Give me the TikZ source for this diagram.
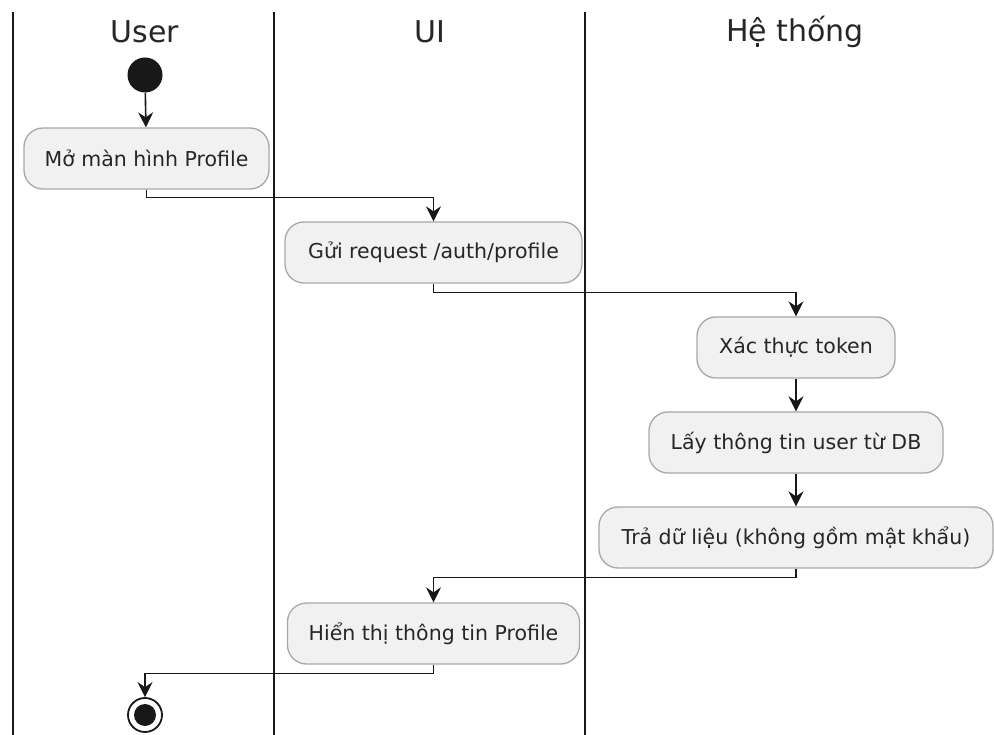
\documentclass[tikz,border=0pt]{standalone}
\usepackage{fontspec}
\setmainfont{DejaVu Sans}
\usetikzlibrary{arrows.meta}
\definecolor{boxfill}{HTML}{F1F1F1}
\definecolor{boxline}{HTML}{A8A8A8}
\definecolor{ink}{HTML}{181818}
\definecolor{txt}{HTML}{262626}
\tikzset{
  lane/.style={draw=ink, line width=2.2pt},
  head/.style={font=\fontsize{30}{34}\selectfont, text=txt},
  act/.style={draw=boxline, fill=boxfill, line width=1.3pt, rounded corners=19pt,
    minimum height=61pt, inner sep=0pt, text=txt,
    font=\fontsize{20.5}{24}\selectfont},
  flow/.style={draw=ink, line width=1.6pt,
    -{Stealth[length=15pt,width=15pt,inset=5pt]}},
}
\begin{document}
\begin{tikzpicture}[x=1pt,y=-1pt]
  \useasboundingbox (0,0) rectangle (994,735);
  \fill[white] (0,0) rectangle (994,735);

  % swimlane separators
  \draw[lane] (13,12) -- (13,735);
  \draw[lane] (274,12) -- (274,735);
  \draw[lane] (585,12) -- (585,735);

  % lane titles
  \node[head] (hUser) at (145,32) {User};
  \node[head] (hUI) at (430,32) {UI};
  \node[head] (hSys) at (795,32) {Hệ thống};

  % start / end
  \node[circle, fill=ink, minimum size=35pt, inner sep=0pt] (start) at (145,75) {};
  \node[circle, draw=ink, line width=1.8pt, fill=white, minimum size=34pt, inner sep=0pt] (stop) at (145,715) {};
  \fill[ink] (stop.center) circle (11pt);

  % activities
  \node[act, minimum width=245pt] (b1) at (146.5,158.5) {Mở màn hình Profile};
  \node[act, minimum width=297pt] (b2) at (433.5,252.5) {Gửi request /auth/profile};
  \node[act, minimum width=198pt] (b3) at (796,347.5) {Xác thực token};
  \node[act, minimum width=294pt] (b4) at (796,442.5) {Lấy thông tin user từ DB};
  \node[act, minimum width=394pt] (b5) at (796,537.5) {Trả dữ liệu (không gồm mật khẩu)};
  \node[act, minimum width=292pt] (b6) at (433.5,633.5) {Hiển thị thông tin Profile};

  % flow
  \draw[flow] (start) -- (b1);
  \draw[flow] (b1.south) -- ++(0,8) -| (b2.north);
  \draw[flow] (b2.south) -- ++(0,9) -| (b3.north);
  \draw[flow] (b3) -- (b4);
  \draw[flow] (b4) -- (b5);
  \draw[flow] (b5.south) -- ++(0,9) -| (b6.north);
  \draw[flow] (b6.south) -- ++(0,9) -| (stop.north);
\end{tikzpicture}
\end{document}
